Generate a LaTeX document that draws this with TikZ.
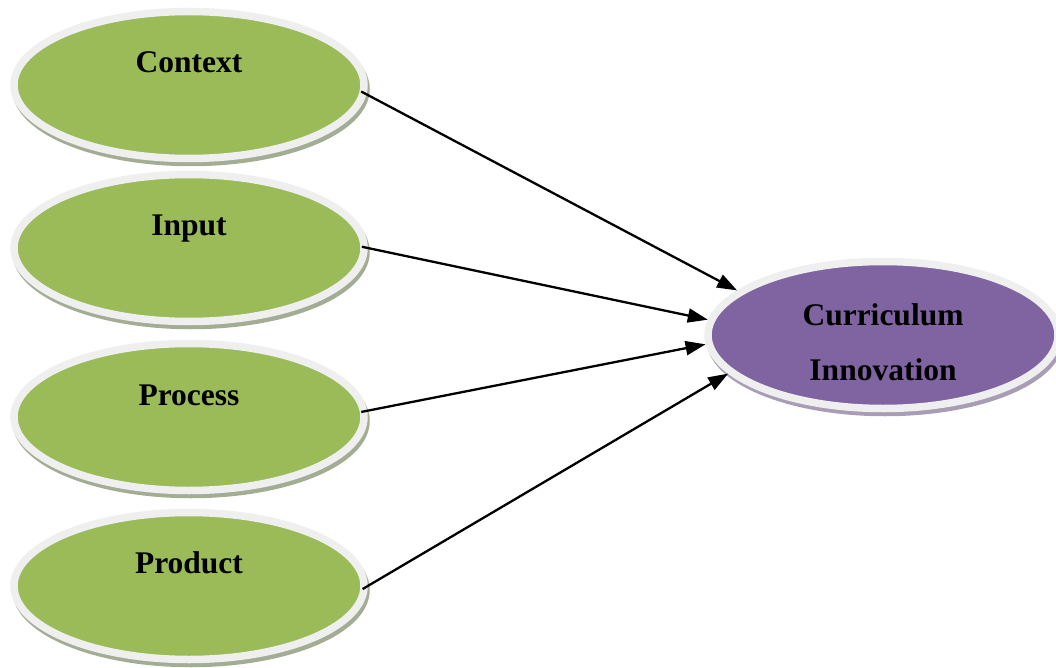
\documentclass[tikz,border=0pt]{standalone}
\usepackage{fontspec}
\setmainfont{Liberation Serif}
\usetikzlibrary{arrows.meta,shapes.geometric,shadows}
\definecolor{rimgray}{HTML}{EFEFEF}
\definecolor{olivegreen}{HTML}{9BBB59}
\definecolor{lavender}{HTML}{8064A2}
\definecolor{gshadow}{HTML}{A3AD93}
\definecolor{pshadow}{HTML}{A89DB5}
\begin{document}
\begin{tikzpicture}[x=1pt,y=-1pt,
  blob/.style={ellipse, draw=rimgray, line width=7.5pt, minimum width=350pt,
    minimum height=147pt, inner sep=0pt, outer sep=3.75pt},
  greenblob/.style={blob, fill=olivegreen,
    general shadow={fill=gshadow, draw=gshadow, line width=7.5pt, shadow xshift=2pt, shadow yshift=-4pt}},
  purpleblob/.style={blob, fill=lavender,
    general shadow={fill=pshadow, draw=pshadow, line width=7.5pt, shadow xshift=2pt, shadow yshift=-4pt}},
  lbl/.style={font=\fontsize{31.5}{55}\selectfont\bfseries, inner sep=0pt},
  arr/.style={line width=2.3pt, -{Triangle[length=20pt,width=14pt]}, shorten <=-6pt}
]
\useasboundingbox (0,0) rectangle (1056,668);
\node[greenblob] (ctx) at (189,85) {};
\node[greenblob] (inp) at (189,248) {};
\node[greenblob] (proc) at (189,417) {};
\node[greenblob] (prod) at (189,586) {};
\node[purpleblob] (ci) at (883,335) {};
\node[lbl, anchor=base] (ctxl) at (189,73) {Context};
\node[lbl, anchor=base] (inpl) at (189,235) {Input};
\node[lbl, anchor=base] (procl) at (189,405) {Process};
\node[lbl, anchor=base] (prodl) at (189,573) {Product};
\node[lbl, align=center] (cil) at (883,342) {Curriculum\\Innovation};
\draw[arr] (ctx.-3) -- (ci.163.6);
\draw[arr] (inp.0) -- (ci.175.2);
\draw[arr] (proc.2.6) -- (ci.-177.4);
\draw[arr] (prod.0) -- (ci.194);
\end{tikzpicture}
\end{document}
